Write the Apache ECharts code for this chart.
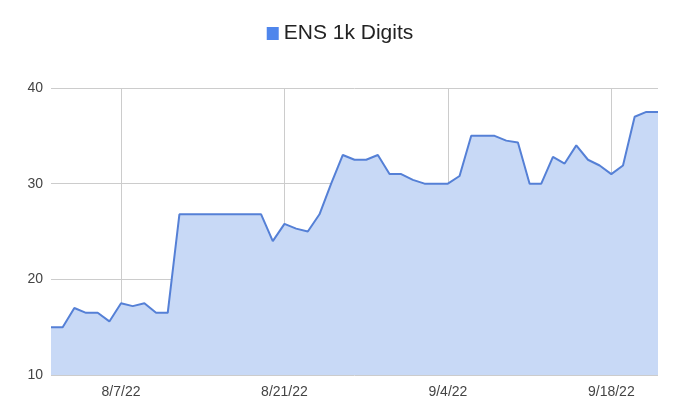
<!DOCTYPE html>
<html><head><meta charset="utf-8">
<script src="https://cdn.jsdelivr.net/npm/echarts@6/dist/echarts.min.js"></script>
<style>html,body{margin:0;padding:0;background:#fff}#c{width:680px;height:415px}</style>
</head><body><div id="c"></div>
<script>
var categories = ["8/1/22","8/2/22","8/3/22","8/4/22","8/5/22","8/6/22","8/7/22","8/8/22","8/9/22","8/10/22",
"8/11/22","8/12/22","8/13/22","8/14/22","8/15/22","8/16/22","8/17/22","8/18/22","8/19/22","8/20/22",
"8/21/22","8/22/22","8/23/22","8/24/22","8/25/22","8/26/22","8/27/22","8/28/22","8/29/22","8/30/22",
"8/31/22","9/1/22","9/2/22","9/3/22","9/4/22","9/5/22","9/6/22","9/7/22","9/8/22","9/9/22",
"9/10/22","9/11/22","9/12/22","9/13/22","9/14/22","9/15/22","9/16/22","9/17/22","9/18/22","9/19/22",
"9/20/22","9/21/22","9/22/22"];
var values = [15,15,17,16.5,16.5,15.6,17.5,17.2,17.5,16.5,
16.5,26.8,26.8,26.8,26.8,26.8,26.8,26.8,26.8,24,
25.8,25.3,25,26.8,30,33,32.5,32.5,33,31,
31,30.4,30,30,30,30.8,35,35,35,34.5,
34.3,30,30,32.8,32.1,34,32.5,31.9,31,31.9,
37,37.5,37.5];
var tickLabels = ["8/7/22","8/21/22","9/4/22","9/18/22"];
var seriesName = "ENS 1k Digits";

var chart = echarts.init(document.getElementById('c'));
function isTick(i){ return tickLabels.indexOf(categories[i]) >= 0; }
chart.setOption({
  animation:false,
  textStyle:{fontFamily:'Arial, "Liberation Sans", sans-serif'},
  legend:{top:18,left:'center',itemWidth:12,itemHeight:13,itemGap:10,
    icon:'rect',textStyle:{fontSize:21,color:'#222'},data:[{name:seriesName,itemStyle:{color:'#4f86ec'}}]},
  grid:{left:51,right:22,top:88,bottom:40,containLabel:false},
  xAxis:{type:'category',data:categories,boundaryGap:false,
    axisLine:{show:false},axisTick:{show:false},
    axisLabel:{interval:function(i){return isTick(i);},color:'#444',fontSize:14,margin:10},
    splitLine:{show:true,interval:function(i){return isTick(i);},lineStyle:{color:'#cccccc',width:1}}},
  yAxis:{type:'value',min:10,max:40,interval:10,
    axisLine:{show:false},axisTick:{show:false},
    axisLabel:{color:'#444',fontSize:14,margin:8},
    splitLine:{lineStyle:{color:'#cccccc',width:1}}},
  series:[{name:seriesName,type:'line',data:values,symbol:'none',
    lineStyle:{color:'#5580d6',width:2},itemStyle:{color:'#5580d6'},
    areaStyle:{color:'#c8d9f6',opacity:1}}]
});
</script></body></html>
